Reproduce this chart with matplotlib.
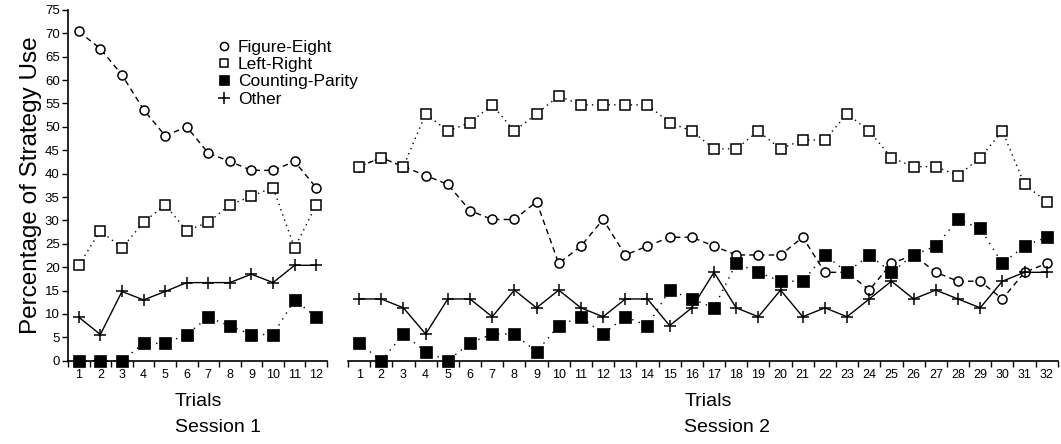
import numpy as np
import matplotlib
matplotlib.use("Agg")
import matplotlib.pyplot as plt
from matplotlib.lines import Line2D

plt.rcParams['font.family'] = ['Liberation Sans', 'DejaVu Sans']

trials1 = np.arange(1, 13)
trials2 = np.arange(1, 33)

# Session 1 (percentages)
fig8_s1 = [70.4, 66.7, 61.1, 53.7, 48.1, 50.0, 44.4, 42.6, 40.7, 40.7, 42.6, 37.0]
lr_s1 = [20.4, 27.8, 24.1, 29.6, 33.3, 27.8, 29.6, 33.3, 35.2, 37.0, 24.1, 33.3]
cp_s1 = [0.0, 0.0, 0.0, 3.7, 3.7, 5.6, 9.3, 7.4, 5.6, 5.6, 13.0, 9.3]
other_s1 = [9.3, 5.6, 14.8, 13.0, 14.8, 16.7, 16.7, 16.7, 18.5, 16.7, 20.4, 20.4]

# Session 2 (percentages)
fig8_s2 = [41.5, 43.4, 41.5, 39.6, 37.7, 32.1, 30.2, 30.2, 34.0, 20.8, 24.5, 30.2,
           22.6, 24.5, 26.4, 26.4, 24.5, 22.6, 22.6, 22.6, 26.4, 18.9, 18.9, 15.1,
           20.8, 22.6, 18.9, 17.0, 17.0, 13.2, 18.9, 20.8]
lr_s2 = [41.5, 43.4, 41.5, 52.8, 49.1, 50.9, 54.7, 49.1, 52.8, 56.6, 54.7, 54.7,
         54.7, 54.7, 50.9, 49.1, 45.3, 45.3, 49.1, 45.3, 47.2, 47.2, 52.8, 49.1,
         43.4, 41.5, 41.5, 39.6, 43.4, 49.1, 37.7, 34.0]
cp_s2 = [3.8, 0.0, 5.7, 1.9, 0.0, 3.8, 5.7, 5.7, 1.9, 7.5, 9.4, 5.7,
         9.4, 7.5, 15.1, 13.2, 11.3, 20.8, 18.9, 17.0, 17.0, 22.6, 18.9, 22.6,
         18.9, 22.6, 24.5, 30.2, 28.3, 20.8, 24.5, 26.4]
other_s2 = [13.2, 13.2, 11.3, 5.7, 13.2, 13.2, 9.4, 15.1, 11.3, 15.1, 11.3, 9.4,
            13.2, 13.2, 7.5, 11.3, 18.9, 11.3, 9.4, 15.1, 9.4, 11.3, 9.4, 13.2,
            17.0, 13.2, 15.1, 13.2, 11.3, 17.0, 18.9, 18.9]

labels = ["Figure-Eight", "Left-Right", "Counting-Parity", "Other"]

styles = {
    "Figure-Eight": dict(ls=(0, (4, 3)), marker="o", mfc="white", ms=6.5, mew=1.1),
    "Left-Right": dict(ls=(0, (1, 3)), marker="s", mfc="white", ms=6.5, mew=1.1),
    "Counting-Parity": dict(ls=(0, (1, 4)), marker="s", mfc="black", ms=8, mew=0.5),
    "Other": dict(ls="-", marker="+", mfc="black", ms=9, mew=1.1),
}

fig = plt.figure(figsize=(10.61, 4.44), dpi=100)
ax1 = fig.add_axes([0.0641, 0.1876, 0.2441, 0.79])
ax2 = fig.add_axes([0.328, 0.1876, 0.669, 0.79])

for ax, x, series in [
    (ax1, trials1, [fig8_s1, lr_s1, cp_s1, other_s1]),
    (ax2, trials2, [fig8_s2, lr_s2, cp_s2, other_s2]),
]:
    for name, y in zip(labels, series):
        st = styles[name]
        ax.plot(x, y, color="black", lw=1, linestyle=st["ls"], marker=st["marker"],
                markerfacecolor=st["mfc"], markeredgecolor="black",
                markersize=st["ms"], markeredgewidth=st["mew"], clip_on=False)
    ax.set_xlim(0.5, len(x) + 0.5)
    ax.set_ylim(0, 75)
    ax.set_xticks(x)
    ax.set_xticks(np.arange(0.5, len(x) + 1), minor=True)
    ax.tick_params(axis="x", which="major", length=0, labelsize=9, pad=6)
    ax.tick_params(axis="x", which="minor", length=4, width=1, direction="out")
    for s in ["top", "right"]:
        ax.spines[s].set_visible(False)
    ax.spines["bottom"].set_linewidth(1.2)

ax1.set_yticks(np.arange(0, 80, 5))
ax1.tick_params(axis="y", length=4, width=1, labelsize=9.5, pad=2)
ax1.spines["left"].set_linewidth(1.2)
ax1.set_ylabel("Percentage of Strategy Use", fontsize=17.5, labelpad=2)

ax2.spines["left"].set_visible(False)
ax2.set_yticks([])

fig.text(0.165, 0.066, "Trials\nSession 1", fontsize=14, ha="left", va="center", linespacing=1.65)
fig.text(0.645, 0.066, "Trials\nSession 2", fontsize=14, ha="left", va="center", linespacing=1.65)

handles = []
for name in labels:
    st = styles[name]
    handles.append(Line2D([], [], color="black", linestyle="none", marker=st["marker"],
                          markerfacecolor=st["mfc"], markeredgecolor="black",
                          markersize=st["ms"] * 0.9, markeredgewidth=st["mew"]))
fig.legend(handles, labels, loc="upper left", bbox_to_anchor=(0.198, 0.93),
           frameon=False, fontsize=12.5, handlelength=0.6, handletextpad=0.5,
           labelspacing=0.12, borderpad=0)

fig.savefig("out.png", dpi=100)
